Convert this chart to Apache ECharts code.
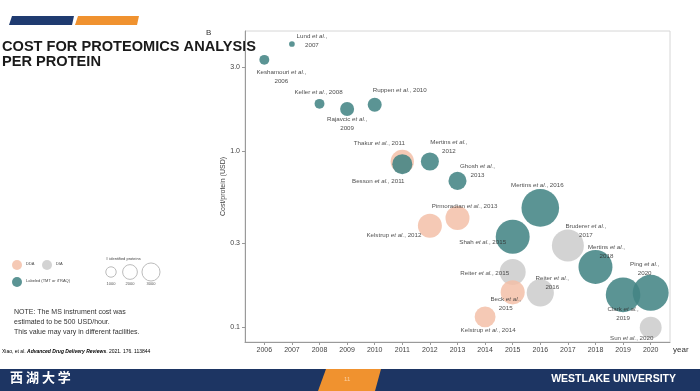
<!DOCTYPE html>
<html><head><meta charset="utf-8">
<script src="https://cdn.jsdelivr.net/npm/echarts@6/dist/echarts.min.js"></script>
<style>html,body{margin:0;padding:0;background:#fff}#c{width:700px;height:391px}</style>
</head><body><div id="c"></div>
<script>
// ---- data ----
const authors = ['Keshamouri','Lund','Keller','Rajavcic','Ruppen','Thakur','Besson','Mertins','Ghosh','Pirmoradian','Kelstrup','Mertins','Shah','Bruderer','Mertins','Reiter','Reiter','Beck','Kelstrup','Clark','Ping','Sun'];
const years   = [2006,2007,2008,2009,2010,2011,2011,2012,2013,2013,2012,2016,2015,2017,2018,2015,2016,2015,2014,2019,2020,2020];
const costs   = [3.29,4.05,1.85,1.73,1.83,0.87,0.84,0.87,0.675,0.416,0.375,0.474,0.325,0.29,0.219,0.205,0.156,0.157,0.114,0.152,0.156,0.099];
const proteins= [900,300,900,1800,1800,5000,3700,3000,3000,5300,5300,13000,10600,9400,10600,6200,6800,5300,4000,11000,11900,4400];
const methods = ['L','L','L','L','L','D','L','L','L','D','D','L','L','I','L','I','I','D','D','L','L','I'];
const methodNames = {D:'DDA', I:'DIA', L:'Labeled (TMT or iTRAQ)'};
const xTicks = [2006,2007,2008,2009,2010,2011,2012,2013,2014,2015,2016,2017,2018,2019,2020];
const yTicks = [0.1,0.3,1.0,3.0];
const sizeLegend = [1000,2000,3000];

// ---- layout (label offsets dx,dy, two lines?) ----
const labelLayout = [[17,17,1],[20,-3,1],[-1,-12,0],[0,15,1],[25,-14,0],[-23,-18,0],[-24,17,0],[19,-15,1],[20,-10,1],[7,-12,0],[-36,9,0],[-3,-23,0],[-30,6,0],[18,-15,1],[11,-15,1],[-28,1,0],[12,-10,1],[-7,11,1],[3,13,0],[0,19,1],[-6,-24,1],[-19,11,0]];
const colors = {D:'#f3bfa8', I:'#cbcbcb', L:'#448585'};
const diam = p => 0.33*Math.sqrt(p);
const FONT = 'Liberation Sans';

function buildSeries(m){
  const data=[];
  years.forEach((y,i)=>{
    if(methods[i]!==m) return;
    const L=labelLayout[i];
    data.push({value:[y,costs[i],proteins[i]], name:authors[i],
      label:{offset:[L[0],L[1]], formatter: L[2] ? '{n|'+authors[i]+' }{i|et al.}{n|,}\n{n|'+years[i]+'}' : '{n|'+authors[i]+' }{i|et al.}{n|, '+years[i]+'}'}});
  });
  return {type:'scatter', name:methodNames[m], data,
    symbolSize: v=>diam(v[2]),
    itemStyle:{color:colors[m], opacity: m==='L'?0.88:0.85},
    label:{show:true, position:'inside', align:'center', verticalAlign:'middle',
      rich:{n:{fontSize:6.2,fontFamily:FONT,color:'#333',lineHeight:9},i:{fontSize:6.2,fontFamily:FONT,fontStyle:'italic',color:'#333',lineHeight:9}}},
    emphasis:{disabled:true}, z: m==='I'?2:(m==='D'?3:4)};
}

const graphic=[
  {type:'polygon',shape:{points:[[12,16],[74,16],[72,25],[9,25]]},style:{fill:'#1f3b70'}},
  {type:'polygon',shape:{points:[[78,16],[139,16],[137,25],[75,25]]},style:{fill:'#f0922f'}},
  {type:'text',left:2,top:39,style:{text:'COST FOR PROTEOMICS ANALYSIS\nPER PROTEIN',font:'bold 14.6px "Liberation Sans"',fill:'#1a1a1a',lineHeight:15}},
  {type:'text',left:206,top:29,style:{text:'B',font:'8px "Liberation Sans"',fill:'#333'}},
  // legend: methods
  {type:'circle',shape:{cx:17,cy:265,r:5},style:{fill:colors.D,opacity:0.85}},
  {type:'text',left:26,top:262,style:{text:methodNames.D,font:'4px "Liberation Sans"',fill:'#444'}},
  {type:'circle',shape:{cx:47,cy:265,r:5},style:{fill:colors.I,opacity:0.85}},
  {type:'text',left:56,top:262,style:{text:methodNames.I,font:'4px "Liberation Sans"',fill:'#444'}},
  {type:'circle',shape:{cx:17,cy:282,r:5},style:{fill:colors.L,opacity:0.88}},
  {type:'text',left:26,top:279,style:{text:methodNames.L,font:'4px "Liberation Sans"',fill:'#444'}},
  {type:'text',left:106,top:257,style:{text:'# identified proteins',font:'4px "Liberation Sans"',fill:'#444'}},
  // note
  {type:'text',left:14,top:307,style:{text:'NOTE: The MS instrument cost was\nestimated to be 500 USD/hour.\nThis value may vary in different facilities.',font:'7px "Liberation Sans"',fill:'#333',lineHeight:10}},
  {type:'text',left:2,top:349,style:{rich:{a:{fontSize:5,fontFamily:FONT,color:'#777'},b:{fontSize:5,fontFamily:FONT,fontWeight:'bold',fontStyle:'italic',color:'#1f3b70'}},text:'{a|Xiao, et al. }{b|Advanced Drug Delivery Reviews}{a|. 2021. 176. 113844}'}},
  // footer
  {type:'rect',shape:{x:0,y:369,width:700,height:22},style:{fill:'#1d3563'}},
  {type:'polygon',shape:{points:[[326,369],[381,369],[375,391],[318,391]]},style:{fill:'#f0922f'}},
  {type:'text',left:344,top:376,style:{text:'11',font:'6px "Liberation Sans"',fill:'#fbd1a5'}},
  {type:'text',left:10,top:371,style:{text:'西 湖 大 学',font:'bold 13px "Noto Sans CJK SC"',fill:'#fff'}},
  {type:'text',right:24,top:374,style:{text:'WESTLAKE UNIVERSITY',font:'bold 10.5px "Liberation Sans"',fill:'#fff'}}
];
// size legend circles + labels
const sx=[111,130,151];
sizeLegend.forEach((p,k)=>{
  graphic.push({type:'circle',shape:{cx:sx[k],cy:272,r:diam(p)/2},style:{fill:'none',stroke:'#bbb',lineWidth:1}});
  graphic.push({type:'text',x:sx[k],y:282,style:{text:String(p),font:'4px "Liberation Sans"',fill:'#555',align:'center'}});
});

const chart=echarts.init(document.getElementById('c'),null,{renderer:'canvas'});
chart.setOption({
  animation:false,
  grid:{left:245,right:30,top:31,bottom:49,show:true,borderColor:'#d6d6d6',borderWidth:1},
  xAxis:{type:'value',min:2005.3,max:2020.7,
    name:'year',nameLocation:'end',nameGap:3,nameTextStyle:{fontFamily:FONT,fontSize:8,color:'#333',verticalAlign:'top',padding:[4,0,0,0]},
    axisLine:{lineStyle:{color:'#9a9a9a'}},
    axisTick:{customValues:xTicks,length:3,lineStyle:{color:'#9a9a9a'}},
    axisLabel:{customValues:xTicks,fontFamily:FONT,fontSize:7,color:'#444',margin:5,formatter:v=>String(Math.round(v))},
    splitLine:{show:false}},
  yAxis:{type:'log',logBase:10,min:0.082,max:4.8,
    name:'Cost/protein (USD)',nameLocation:'middle',nameGap:18,nameMoveOverlap:false,nameTextStyle:{fontFamily:FONT,fontSize:7,color:'#444'},
    axisLine:{show:true,lineStyle:{color:'#9a9a9a'}},
    axisTick:{show:true,customValues:yTicks,length:3,lineStyle:{color:'#9a9a9a'}},
    axisLabel:{customValues:yTicks,fontFamily:FONT,fontSize:7,color:'#444',margin:5,formatter:v=>Number(v).toFixed(1)},
    splitLine:{show:false}},
  series:['I','D','L'].map(buildSeries),
  graphic
});
</script></body></html>
